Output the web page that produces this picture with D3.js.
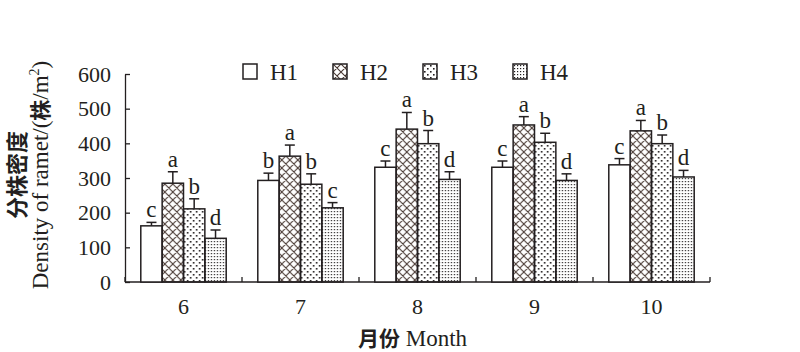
<!DOCTYPE html>
<html>
<head>
<meta charset="utf-8">
<script src="https://cdn.jsdelivr.net/npm/d3@7"></script>
<style>
  body { margin: 0; background: #fff; }
  text { font-family: "Liberation Serif", "Times New Roman", serif; fill: #231f20; }
  .cjk { font-family: "Noto Sans CJK SC", sans-serif; }
</style>
</head>
<body>
<div id="chart"></div>
<script>
var months = ["6", "7", "8", "9", "10"];
var groups = ["H1", "H2", "H3", "H4"];
var H1 = [162, 293, 331, 331, 338];
var H2 = [285, 363, 441, 453, 436];
var H3 = [211, 282, 399, 403, 399];
var H4 = [126, 214, 296, 293, 303];
var H1err = [10, 21, 18, 18, 18];
var H2err = [33, 32, 48, 24, 30];
var H3err = [29, 30, 38, 26, 25];
var H4err = [24, 15, 22, 19, 19];
var H1sig = ["c", "b", "c", "c", "c"];
var H2sig = ["a", "a", "a", "a", "a"];
var H3sig = ["b", "b", "b", "b", "b"];
var H4sig = ["d", "c", "d", "d", "d"];
var yTicks = [0, 100, 200, 300, 400, 500, 600];

var w = 800, h = 352;
var padL = 125, padR = 710, padT = 74, padB = 282;
var ink = "#231f20";

var svg = d3.select("#chart").append("svg")
  .attr("width", w).attr("height", h);

// patterns
var defs = svg.append("defs");
var p2 = defs.append("pattern").attr("id", "pat2")
  .attr("patternUnits", "userSpaceOnUse").attr("width", 8).attr("height", 8);
p2.append("path").attr("d", "M0,0 L8,8 M8,0 L0,8 M-1,7 L1,9 M7,-1 L9,1 M-1,1 L1,-1 M7,9 L9,7")
  .attr("stroke", "#4a3a34").attr("stroke-width", 1.1);
var p3 = defs.append("pattern").attr("id", "pat3")
  .attr("patternUnits", "userSpaceOnUse").attr("width", 6).attr("height", 6);
p3.append("rect").attr("x", 1).attr("y", 1).attr("width", 1.6).attr("height", 1.6).attr("fill", ink);
p3.append("rect").attr("x", 4).attr("y", 4).attr("width", 1.6).attr("height", 1.6).attr("fill", ink);
var p4 = defs.append("pattern").attr("id", "pat4")
  .attr("patternUnits", "userSpaceOnUse").attr("width", 3).attr("height", 3);
p4.append("rect").attr("x", 1).attr("y", 1).attr("width", 1.2).attr("height", 1.2).attr("fill", ink);
var fills = ["#fff", "url(#pat2)", "url(#pat3)", "url(#pat4)"];

var data = months.map(function(m, i) {
  return {
    month: m,
    bars: [
      {g: "H1", v: H1[i], e: H1err[i], s: H1sig[i]},
      {g: "H2", v: H2[i], e: H2err[i], s: H2sig[i]},
      {g: "H3", v: H3[i], e: H3err[i], s: H3sig[i]},
      {g: "H4", v: H4[i], e: H4err[i], s: H4sig[i]}
    ]
  };
});

var x0 = d3.scaleBand().domain(months).range([padL, padR]).paddingInner(0.27).paddingOuter(0.135);
var x1 = d3.scaleBand().domain(groups).range([0, x0.bandwidth()]);
var y = d3.scaleLinear().domain([0, 600]).range([padB, padT]);
var fill = d3.scaleOrdinal().domain(groups).range(fills);

// y axis
var yaxis = d3.axisLeft(y).tickValues(yTicks).tickSizeInner(-5).tickSizeOuter(0).tickPadding(14);
var gy = svg.append("g").attr("transform", "translate(" + padL + ",0)").call(yaxis);
gy.select(".domain").attr("stroke", ink).attr("stroke-width", 1.3);
gy.selectAll(".tick line").attr("stroke", ink).attr("stroke-width", 1.3);
gy.selectAll("text").attr("font-size", 22).attr("font-family", "Liberation Serif").attr("fill", ink);

// x axis: ticks on category boundaries
var gx = svg.append("g").attr("transform", "translate(0," + padB + ")");
gx.append("line").attr("x1", padL).attr("x2", padR).attr("stroke", ink).attr("stroke-width", 1.3);
var bounds = months.map(function(m) { return x0(m) - x0.step() * x0.paddingInner() / 2; });
bounds.push(padR);
gx.selectAll(".xt").data(bounds).enter().append("line")
  .attr("x1", function(d) { return d; }).attr("x2", function(d) { return d; })
  .attr("y1", 0).attr("y2", -5).attr("stroke", ink).attr("stroke-width", 1.3);
gx.selectAll(".xl").data(months).enter().append("text")
  .attr("x", function(d) { return x0(d) + x0.bandwidth() / 2; })
  .attr("y", 32).attr("text-anchor", "middle").attr("font-size", 22)
  .text(function(d) { return d; });

// bars
var grp = svg.selectAll(".grp").data(data).enter().append("g")
  .attr("transform", function(d) { return "translate(" + x0(d.month) + ",0)"; });

var bar = grp.selectAll(".bar").data(function(d) { return d.bars; }).enter().append("g");

bar.append("line")
  .attr("x1", function(d) { return x1(d.g) + x1.bandwidth() / 2; })
  .attr("x2", function(d) { return x1(d.g) + x1.bandwidth() / 2; })
  .attr("y1", function(d) { return y(d.v); })
  .attr("y2", function(d) { return y(d.v + d.e); })
  .attr("stroke", ink).attr("stroke-width", 1.5);
bar.append("line")
  .attr("x1", function(d) { return x1(d.g) + x1.bandwidth() / 2 - 5; })
  .attr("x2", function(d) { return x1(d.g) + x1.bandwidth() / 2 + 5; })
  .attr("y1", function(d) { return y(d.v + d.e); })
  .attr("y2", function(d) { return y(d.v + d.e); })
  .attr("stroke", ink).attr("stroke-width", 1.5);
bar.append("rect")
  .attr("x", function(d) { return x1(d.g); })
  .attr("y", function(d) { return y(d.v); })
  .attr("width", x1.bandwidth())
  .attr("height", function(d) { return padB - y(d.v); })
  .attr("fill", function(d) { return fill(d.g); })
  .attr("stroke", ink).attr("stroke-width", 1.5);
bar.append("text")
  .attr("x", function(d) { return x1(d.g) + x1.bandwidth() / 2; })
  .attr("y", function(d) { return y(d.v + d.e) - 5; })
  .attr("text-anchor", "middle").attr("font-size", 23)
  .text(function(d) { return d.s; });

// legend
var lg = svg.selectAll(".lg").data(groups).enter().append("g")
  .attr("transform", function(d, i) { return "translate(" + (243 + i * 90) + ",64)"; });
lg.append("rect").attr("width", 14).attr("height", 15)
  .attr("fill", function(d) { return fill(d); })
  .attr("stroke", ink).attr("stroke-width", 1.5);
lg.append("text").attr("x", 27).attr("y", 16).attr("font-size", 23)
  .text(function(d) { return d; });

// axis titles
svg.append("text").attr("x", (padL + padR) / 2 - 5).attr("y", 346)
  .attr("text-anchor", "middle").attr("font-size", 23)
  .html('<tspan class="cjk" font-weight="bold" font-size="21">月份</tspan> Month');

var yl = svg.append("g").attr("transform", "translate(0,175) rotate(-90)");
yl.append("text").attr("class", "cjk").attr("x", 0).attr("y", 25)
  .attr("text-anchor", "middle").attr("font-size", 22).attr("font-weight", "bold")
  .text("分株密度");
yl.append("text").attr("x", 0).attr("y", 48)
  .attr("text-anchor", "middle").attr("font-size", 23)
  .html('Density of ramet/(<tspan class="cjk" font-size="21" font-weight="bold">株</tspan>/m<tspan dy="-9" font-size="14">2</tspan><tspan dy="9">)</tspan>');
</script>
</body>
</html>
